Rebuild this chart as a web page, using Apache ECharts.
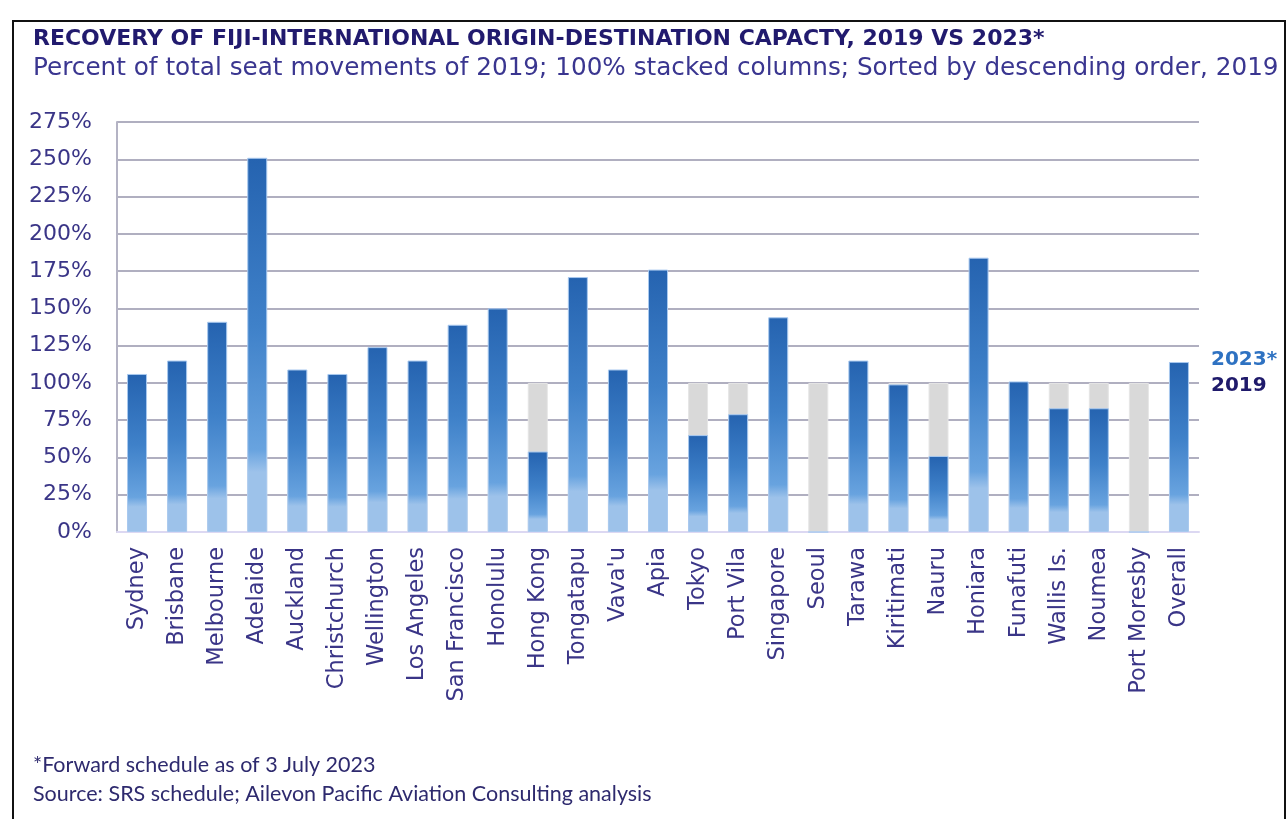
<!DOCTYPE html>
<html>
<head>
<meta charset="utf-8">
<script src="https://cdn.jsdelivr.net/npm/echarts@6/dist/echarts.min.js"></script>
<style>
  html, body { margin: 0; padding: 0; background: #fff; }
  #chart { width: 1288px; height: 819px; }
</style>
</head>
<body>
<div id="chart"></div>
<script>
// categories, sorted by 2019 capacity
const cities = ['Sydney', 'Brisbane', 'Melbourne', 'Adelaide', 'Auckland', 'Christchurch',
  'Wellington', 'Los Angeles', 'San Francisco', 'Honolulu', 'Hong Kong', 'Tongatapu',
  "Vava'u", 'Apia', 'Tokyo', 'Port Vila', 'Singapore', 'Seoul', 'Tarawa', 'Kiritimati',
  'Nauru', 'Honiara', 'Funafuti', 'Wallis Is.', 'Noumea', 'Port Moresby', 'Overall'];
// 2019 = 100% baseline for every market
const base2019 = cities.map(() => 100);
// 2023* as % of 2019 seats
const share2023 = [106, 115, 141, 251, 109, 106, 124, 115, 139, 150, 54, 171,
  109, 176, 65, 79, 144, 0, 115, 99, 51, 184, 101, 83, 83, 0, 114];

const axisFont = 'DejaVu Sans';

const chart = echarts.init(document.getElementById('chart'));

const blueFill = new echarts.graphic.LinearGradient(0, 0, 0, 1, [
  { offset: 0, color: '#2563b0' },
  { offset: 0.45, color: '#3f81c9' },
  { offset: 0.78, color: '#68a3df' },
  { offset: 0.84, color: '#9dc2ea' },
  { offset: 1, color: '#9dc2ea' },
]);

chart.setOption({
  animation: false,
  graphic: [
    // frame
    { type: 'rect', shape: { x: 13, y: 21, width: 1272, height: 820 },
      style: { fill: 'none', stroke: '#111', lineWidth: 2 } },
    { type: 'text', left: 33, top: 28,
      style: { text: 'RECOVERY OF FIJI-INTERNATIONAL ORIGIN-DESTINATION CAPACTY, 2019 VS 2023*',
        font: 'bold 22px "DejaVu Sans", sans-serif', fill: '#211a6e' } },
    { type: 'text', left: 33, top: 56,
      style: { text: 'Percent of total seat movements of 2019; 100% stacked columns; Sorted by descending order, 2019',
        font: '24.7px "DejaVu Sans", sans-serif', fill: '#3a3690' } },
    { type: 'text', left: 1211, top: 350,
      style: { text: '2023*', font: 'bold 20px "DejaVu Sans", sans-serif', fill: '#2e72c2' } },
    { type: 'text', left: 1211, top: 376,
      style: { text: '2019', font: 'bold 20px "DejaVu Sans", sans-serif', fill: '#1f1a6b' } },
    { type: 'text', left: 33, top: 754,
      style: { text: '*Forward schedule as of 3 July 2023',
        font: '21.5px Lato, sans-serif', fill: '#2e2a6e' } },
    { type: 'text', left: 33, top: 783,
      style: { text: 'Source: SRS schedule; Ailevon Pacific Aviation Consulting analysis',
        font: '21.5px Lato, sans-serif', fill: '#2e2a6e' } },
  ],
  grid: { left: 117, right: 89, top: 122, bottom: 287 },
  xAxis: {
    type: 'category',
    data: cities,
    axisTick: { show: false },
    axisLine: { lineStyle: { color: '#dcd8f2', width: 2 } },
    axisLabel: {
      rotate: 90, margin: 15, interval: 0,
      fontFamily: axisFont, fontSize: 22.5, color: '#3a3587',
    },
  },
  yAxis: {
    type: 'value',
    min: 0, max: 275, interval: 25,
    axisLine: { show: true, lineStyle: { color: '#b4b3c4', width: 2 } },
    axisTick: { show: false },
    splitLine: { lineStyle: { color: '#b0afc0', width: 2 } },
    axisLabel: {
      formatter: '{value}%', margin: 25,
      fontFamily: axisFont, fontSize: 22, color: '#3a3587',
    },
  },
  series: [
    {
      name: '2019',
      type: 'bar',
      data: base2019,
      barWidth: 20,
      itemStyle: { color: '#d9d9d9', borderColor: '#e6e6e6', borderWidth: 1 },
    },
    {
      name: '2023*',
      type: 'bar',
      data: share2023,
      barWidth: 20,
      barGap: '-100%',
      itemStyle: { color: blueFill, borderColor: '#a9c9ef', borderWidth: 1 },
    },
  ],
});
</script>
</body>
</html>
